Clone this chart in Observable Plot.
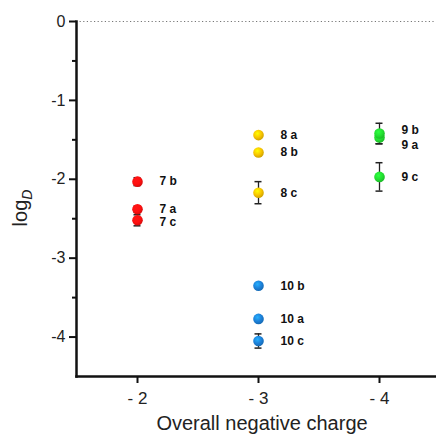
<!DOCTYPE html>
<html><head><meta charset="utf-8">
<script src="https://cdn.jsdelivr.net/npm/d3@7"></script>
<script src="https://cdn.jsdelivr.net/npm/@observablehq/plot@0.6"></script>
<style>
body{margin:0;background:#fff;}
#chart svg{font-family:Arial,"Liberation Sans",sans-serif;}
</style></head>
<body><div id="chart"></div>
<script>
const categories = ["-2", "-3", "-4"];
const labels = ["7 a", "7 b", "7 c", "8 a", "8 b", "8 c", "9 a", "9 b", "9 c", "10 a", "10 b", "10 c"];
const charges = ["-2", "-2", "-2", "-3", "-3", "-3", "-4", "-4", "-4", "-3", "-3", "-3"];
const logD = [-2.38, -2.03, -2.52, -1.44, -1.66, -2.17, -1.47, -1.42, -1.97, -3.77, -3.35, -4.05];
const errors = [0.04, 0.05, 0.07, 0, 0, 0.14, 0.08, 0.13, 0.18, 0, 0, 0.09];
const series = ["7", "7", "7", "8", "8", "8", "9", "9", "9", "10", "10", "10"];
const seriesNames = ["7", "8", "9", "10"];
const seriesColors = ["#ff1010", "#f7c300", "#22e030", "#1c80d8"];
const majorTicks = [0, -1, -2, -3, -4];
const minorTicks = [-0.5, -1.5, -2.5, -3.5];
const labelShift = {"9 a": 8, "9 b": -3, "7 c": 2};

const data = labels.map((l, i) => ({label: l, x: charges[i], y: logD[i], e: errors[i], s: series[i]}));
const errData = data.filter(d => d.e > 0);
const gradId = s => "grad" + s;

const font = 'Arial, "Liberation Sans", sans-serif';
const labelStyle = {x: "x", y: "y", text: "label", dx: 22, textAnchor: "start", fontWeight: "bold", fontSize: 12, fill: "#111"};
const plot = Plot.plot({
  width: 436, height: 434,
  marginLeft: 76, marginRight: -3, marginTop: 21, marginBottom: 58,
  style: {fontFamily: font, background: "#fff", overflow: "hidden"},
  x: {type: "point", domain: categories, label: null},
  y: {domain: [-4.5, 0], label: null},
  marks: [
    Plot.ruleY([0], {stroke: "#777", strokeDasharray: "1.2,2.4", strokeWidth: 1.2}),
    Plot.axisY(majorTicks, {tickSize: 7, tickPadding: 4, fontSize: 16, strokeWidth: 2, stroke: "#111", fill: "#222", tickFormat: d => String(d), label: null}),
    Plot.axisY(minorTicks, {tickSize: 4, strokeWidth: 2, stroke: "#111", tickFormat: () => "", label: null}),
    Plot.axisX(categories, {tickSize: 7, tickPadding: 8, fontSize: 17, strokeWidth: 2, stroke: "#111", fill: "#222", tickFormat: d => "- " + d.slice(1), label: null}),
    Plot.frame({anchor: "left", stroke: "#111", strokeWidth: 2.5}),
    Plot.frame({anchor: "bottom", stroke: "#111", strokeWidth: 2.5}),
    Plot.ruleX(errData, {x: "x", y1: d => d.y - d.e, y2: d => d.y + d.e, stroke: "#222", strokeWidth: 1.3}),
    Plot.ruleY(errData, {x1: "x", x2: "x", y: d => d.y - d.e, insetLeft: -3.5, insetRight: -3.5, stroke: "#222", strokeWidth: 1.5}),
    Plot.ruleY(errData, {x1: "x", x2: "x", y: d => d.y + d.e, insetLeft: -3.5, insetRight: -3.5, stroke: "#222", strokeWidth: 1.5}),
    Plot.dot(data, {x: "x", y: "y", r: 5.3, fill: d => `url(#${gradId(d.s)})`, stroke: null}),
    Plot.text(data.filter(d => !(d.label in labelShift)), labelStyle),
    ...Object.entries(labelShift).map(([k, v]) =>
      Plot.text(data.filter(d => d.label === k), {...labelStyle, dy: v})),
    Plot.text(["Overall negative charge"], {frameAnchor: "bottom", dy: 53, dx: 4, fontSize: 20, fill: "#222", text: d => d})
  ]
});

// gradients for the glossy dots
const svg = d3.select(plot);
const defs = svg.insert("defs", ":first-child");
seriesNames.forEach((s, i) => {
  const c = d3.color(seriesColors[i]);
  const g = defs.append("radialGradient").attr("id", gradId(s)).attr("cx", "40%").attr("cy", "35%").attr("r", "65%");
  g.append("stop").attr("offset", "0%").attr("stop-color", c.brighter(0.9).formatHex());
  g.append("stop").attr("offset", "60%").attr("stop-color", c.formatHex());
  g.append("stop").attr("offset", "100%").attr("stop-color", c.darker(0.5).formatHex());
});

// y-axis title logD with subscript
const t = svg.append("text")
  .attr("transform", "translate(27,208) rotate(-90)")
  .attr("text-anchor", "middle")
  .attr("font-size", 20).attr("fill", "#222").attr("font-family", font);
t.append("tspan").text("log");
t.append("tspan").attr("font-style", "italic").attr("font-size", 14).attr("dy", 5).text("D");

document.getElementById("chart").appendChild(plot);
</script></body></html>
